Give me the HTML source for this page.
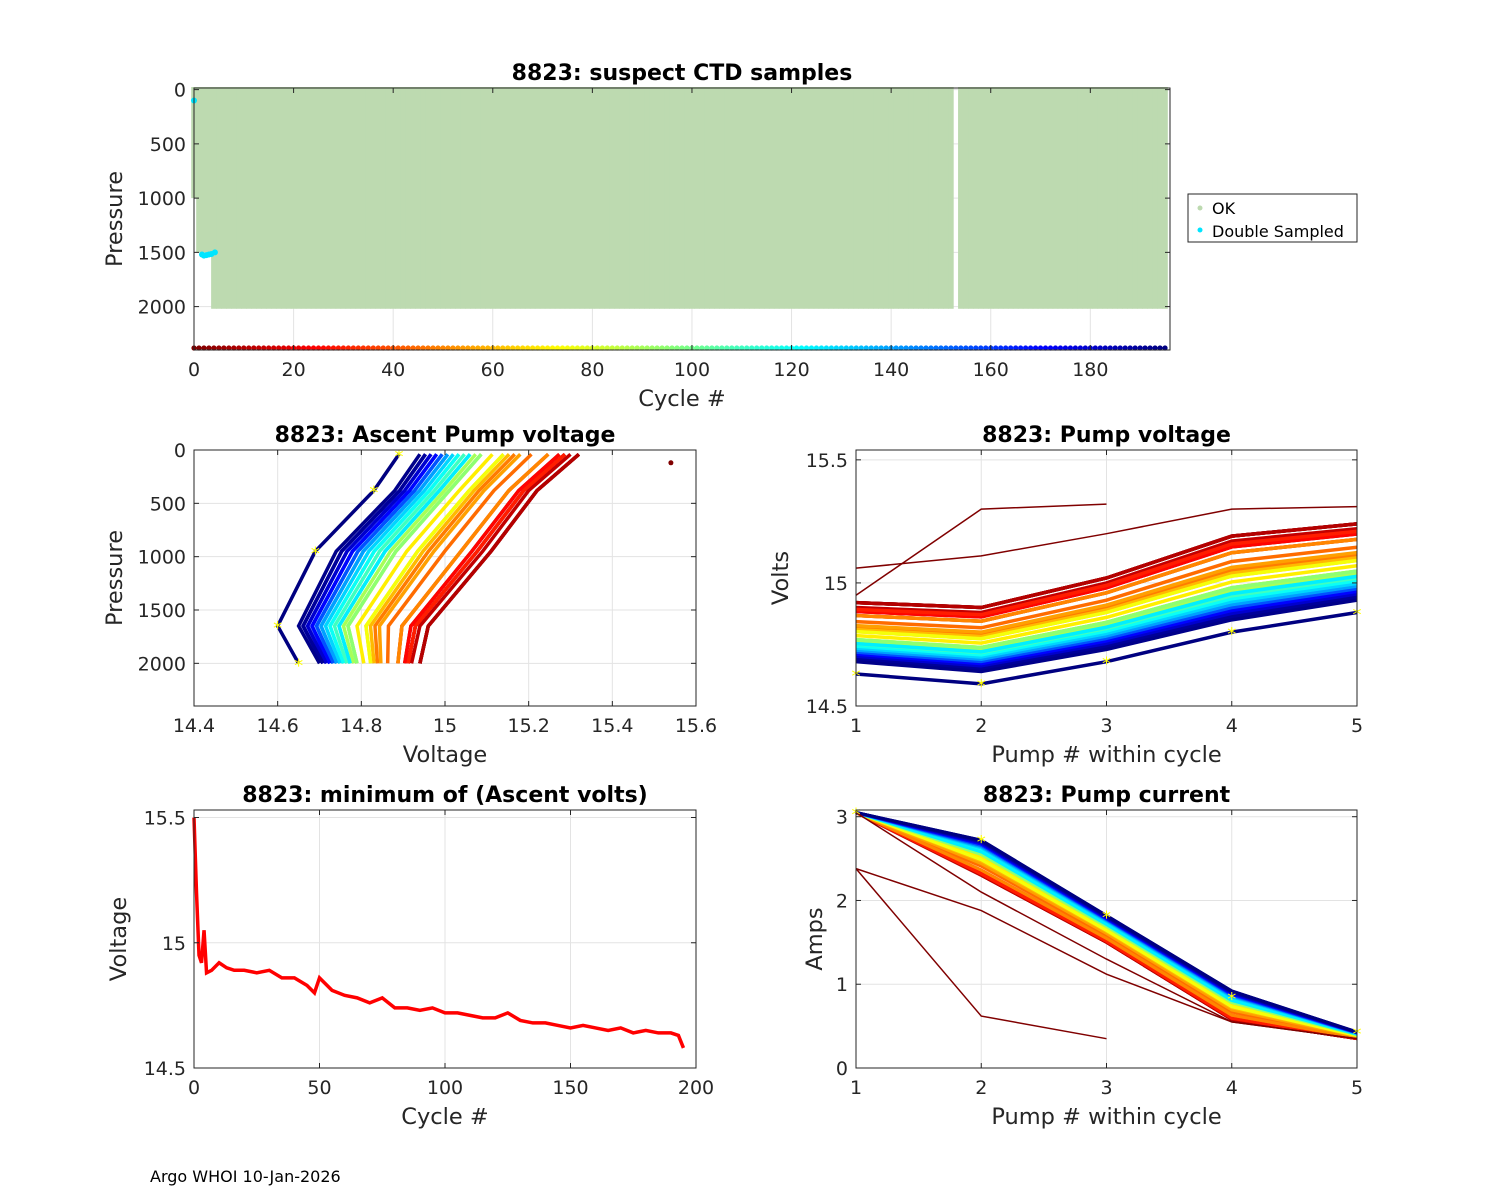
<!DOCTYPE html>
<html><head><meta charset="utf-8"><style>
body{margin:0;background:#fff;}
svg{display:block;font-family:"DejaVu Sans","Liberation Sans",sans-serif;}
</style></head><body>
<svg id="fig" width="1500" height="1200" viewBox="0 0 1500 1200"></svg>
<script>
// ---- data ----
const cycleNums = [0,1,2,3,4,5,7,10,13,16,20,25,30,35,40,45,48,50,55,60,65,70,75,80,85,90,95,100,105,110,115,120,125,130,135,140,145,150,155,160,165,170,175,180,185,190,193,195];
const minVolts  = [15.5,15.2,14.95,14.92,15.05,14.88,14.89,14.92,14.9,14.89,14.89,14.88,14.89,14.86,14.86,14.83,14.8,14.86,14.81,14.79,14.78,14.76,14.78,14.74,14.74,14.73,14.74,14.72,14.72,14.71,14.7,14.7,14.72,14.69,14.68,14.68,14.67,14.66,14.67,14.66,14.65,14.66,14.64,14.65,14.64,14.64,14.63,14.58];
const pumpNums = [1,2,3,4,5];
const pumpVoltEarlyOff = [0.0,-0.02,0.1,0.27,0.32];
const pumpVoltLateOff  = [0.05,0.01,0.1,0.22,0.3];
const ascentPressures = [2000,1650,950,380,40];
const ascentEarlyOff = [0.02,0.04,0.19,0.3,0.4];
const ascentLateOff  = [0.07,0.02,0.11,0.25,0.31];
const ampsEarly = [3.05,2.3,1.5,0.58,0.35];
const ampsLate  = [3.05,2.72,1.82,0.92,0.43];
const okMaxP = [1000,1500,1500,1500,2020];
const missingCycles = [153];
const doubleCycles = [0,1.6,2,2.5,3,3.5,4.2];
const doublePress = [100,1520,1530,1525,1520,1515,1500];
const yTicksP = [0,500,1000,1500,2000];

const NS="http://www.w3.org/2000/svg";
const svg=document.getElementById('fig');
function mk(tag,attrs,parent){const e=document.createElementNS(NS,tag);for(const k in attrs)e.setAttribute(k,attrs[k]);(parent||svg).appendChild(e);return e;}
function jet(t){const c=v=>Math.max(0,Math.min(1,v));const r=c(1.5-Math.abs(4*t-3)),g=c(1.5-Math.abs(4*t-2)),b=c(1.5-Math.abs(4*t-1));return `rgb(${Math.round(r*255)},${Math.round(g*255)},${Math.round(b*255)})`;}
function cyc(c){return jet(1-c/195);}
function axes(o){
  const g=mk('g',{});
  
  
  const sx=v=>o.x0+(v-o.xmin)/(o.xmax-o.xmin)*(o.x1-o.x0);
  const sy=o.rev?(v=>o.y0+(v-o.ymin)/(o.ymax-o.ymin)*(o.y1-o.y0)):(v=>o.y1-(v-o.ymin)/(o.ymax-o.ymin)*(o.y1-o.y0));
  mk('rect',{x:o.x0,y:o.y0,width:o.x1-o.x0,height:o.y1-o.y0,fill:'#fff'},g);
  const grid=mk('g',{stroke:'#e3e3e3','stroke-width':1},g);
  o.xt.forEach(v=>mk('line',{x1:sx(v),x2:sx(v),y1:o.y0,y2:o.y1},grid));
  o.yt.forEach(v=>mk('line',{x1:o.x0,x2:o.x1,y1:sy(v),y2:sy(v)},grid));
  const plot=mk('g',{},g);
  const fr=mk('g',{},g);
  return {g,plot,fr,sx,sy,o};
}
function finish(A,labels){
  const o=A.o,g=A.fr;
  mk('rect',{x:o.x0,y:o.y0,width:o.x1-o.x0,height:o.y1-o.y0,fill:'none',stroke:'#262626','stroke-width':1},g);
  o.xt.forEach(v=>{const x=A.sx(v);mk('line',{x1:x,x2:x,y1:o.y1,y2:o.y1-5,stroke:'#262626'},g);mk('line',{x1:x,x2:x,y1:o.y0,y2:o.y0+5,stroke:'#262626'},g);
    const t=mk('text',{x:x,y:o.y1+26,'text-anchor':'middle','font-size':19,fill:'#262626'},g);t.textContent=(o.xfmt||String)(v);
    
    });
  o.yt.forEach(v=>{const y=A.sy(v);mk('line',{x1:o.x0,x2:o.x0+5,y1:y,y2:y,stroke:'#262626'},g);mk('line',{x1:o.x1,x2:o.x1-5,y1:y,y2:y,stroke:'#262626'},g);
    const t=mk('text',{x:o.x0-8,y:y+7,'text-anchor':'end','font-size':19,fill:'#262626'},g);t.textContent=(o.yfmt||String)(v);
    
    });
  const tt=mk('text',{x:(o.x0+o.x1)/2,y:o.y0-8,'text-anchor':'middle','font-size':22,'font-weight':'bold',fill:'#000'},g);tt.textContent=labels.title;
  
  
  const xl=mk('text',{x:(o.x0+o.x1)/2,y:o.y1+56,'text-anchor':'middle','font-size':22.5,fill:'#262626'},g);xl.textContent=labels.x;
  
  
  const yl=mk('text',{x:0,y:0,'text-anchor':'middle','font-size':22.5,fill:'#262626',transform:`translate(${labels.yx},${(o.y0+o.y1)/2}) rotate(-90)`},g);yl.textContent=labels.y;
  
  
}
const n=cycleNums.length;
const tOf=v=>Math.max(0,Math.min(1,(v-14.63)/0.27));
const lerp=(a,b,t)=>a+(b-a)*t;

// ---- top ----
(function(){
  const A=axes({name:'suspect-ctd-chart',x0:194,x1:1170,y0:88,y1:350,xmin:0,xmax:196,ymin:-15,ymax:2400,rev:true,xt:[0,20,40,60,80,100,120,140,160,180],yt:yTicksP});
  for(let c=0;c<196;c++){
    if(missingCycles.includes(c))continue;
    const mp=c<okMaxP.length?okMaxP[c]:2020;
    const r=mk('rect',{x:A.sx(c)-2.8,y:A.sy(-15)-1,width:5.6,height:A.sy(mp)-A.sy(-15)+1,fill:'#bddab0'},A.plot);
    
    
  }
  doubleCycles.forEach((c,i)=>{const d=mk('circle',{cx:A.sx(c),cy:A.sy(doublePress[i]),r:3,fill:'#00e5ff'},A.plot);
    
    });
  for(let c=0;c<196;c++){const d=mk('circle',{cx:A.sx(c),cy:A.sy(2400)-2,r:2.6,fill:cyc(c)},A.plot);
    
    }
  finish(A,{title:'8823: suspect CTD samples',x:'Cycle #',y:'Pressure',yx:122});
  const lg=mk('g',{});
  
  
  mk('rect',{x:1188,y:194,width:169,height:48,fill:'#fff',stroke:'#262626'},lg);
  mk('circle',{cx:1200,cy:208,r:2.5,fill:'#bddab0'},lg);
  mk('circle',{cx:1200,cy:230,r:2.5,fill:'#00e5ff'},lg);
  const t1=mk('text',{x:1212,y:214,'font-size':16,fill:'#000'},lg);t1.textContent='OK';
  
  
  const t2=mk('text',{x:1212,y:237,'font-size':16,fill:'#000'},lg);t2.textContent='Double Sampled';
  
  
})();

// ---- middle-left ----
(function(){
  const A=axes({name:'ascent-pump-voltage-chart',x0:194,x1:696,y0:450,y1:706,xmin:14.4,xmax:15.6,ymin:0,ymax:2400,rev:true,xt:[14.4,14.6,14.8,15,15.2,15.4,15.6],yt:yTicksP,xfmt:v=>String(+v.toFixed(1))});
  for(let i=2;i<n;i++){
    const v=Math.min(minVolts[i],14.92), t=tOf(v);
    const pts=ascentPressures.map((p,k)=>[A.sx(v+lerp(ascentLateOff[k],ascentEarlyOff[k],t)),A.sy(p)]);
    const l=mk('polyline',{points:pts.map(p=>p.join(',')).join(' '),fill:'none',stroke:cyc(cycleNums[i]),'stroke-width':3.5},A.plot);
    
    
  }
  const last=n-1;
  ascentPressures.forEach((p,k)=>{const s=mk('text',{x:A.sx(minVolts[last]+ascentLateOff[k]),y:A.sy(p)+8,'text-anchor':'middle','font-size':18,fill:'#ffff00'},A.plot);s.textContent='*';
    
    });
  const o=mk('circle',{cx:A.sx(15.54),cy:A.sy(120),r:2.5,fill:'#800000'},A.plot);
  
  
  finish(A,{title:'8823: Ascent Pump voltage',x:'Voltage',y:'Pressure',yx:122});
})();

// ---- middle-right ----
(function(){
  const A=axes({name:'pump-voltage-chart',x0:856,x1:1357,y0:450,y1:706,xmin:1,xmax:5,ymin:14.5,ymax:15.54,xt:[1,2,3,4,5],yt:[14.5,15,15.5]});
  for(let i=2;i<n;i++){
    const v=Math.min(minVolts[i],14.92), t=tOf(v);
    const pts=pumpNums.map((p,k)=>[A.sx(p),A.sy(v+lerp(pumpVoltLateOff[k],pumpVoltEarlyOff[k],t))]);
    const l=mk('polyline',{points:pts.map(p=>p.join(',')).join(' '),fill:'none',stroke:cyc(cycleNums[i]),'stroke-width':3.5},A.plot);
    
    
  }
  const l0=mk('polyline',{points:[[A.sx(1),A.sy(14.95)],[A.sx(2),A.sy(15.3)],[A.sx(3),A.sy(15.32)]].map(p=>p.join(',')).join(' '),fill:'none',stroke:'#800000','stroke-width':1.5},A.plot);
  
  
  const l1=mk('polyline',{points:[[A.sx(1),A.sy(15.06)],[A.sx(2),A.sy(15.11)],[A.sx(3),A.sy(15.2)],[A.sx(4),A.sy(15.3)],[A.sx(5),A.sy(15.31)]].map(p=>p.join(',')).join(' '),fill:'none',stroke:'#800000','stroke-width':1.5},A.plot);
  
  
  const last=n-1;
  pumpNums.forEach((p,k)=>{const s=mk('text',{x:A.sx(p),y:A.sy(minVolts[last]+pumpVoltLateOff[k])+8,'text-anchor':'middle','font-size':18,fill:'#ffff00'},A.plot);s.textContent='*';
    
    });
  finish(A,{title:'8823: Pump voltage',x:'Pump # within cycle',y:'Volts',yx:788});
})();

// ---- bottom-left ----
(function(){
  const A=axes({name:'minimum-ascent-volts-chart',x0:194,x1:696,y0:810,y1:1068,xmin:0,xmax:200,ymin:14.5,ymax:15.53,xt:[0,50,100,150,200],yt:[14.5,15,15.5]});
  const pts=cycleNums.map((c,i)=>[A.sx(c),A.sy(minVolts[i])]);
  const l=mk('polyline',{points:pts.map(p=>p.join(',')).join(' '),fill:'none',stroke:'#ff0000','stroke-width':3.5},A.plot);
  
  
  finish(A,{title:'8823: minimum of (Ascent volts)',x:'Cycle #',y:'Voltage',yx:126});
})();

// ---- bottom-right ----
(function(){
  const A=axes({name:'pump-current-chart',x0:856,x1:1357,y0:810,y1:1068,xmin:1,xmax:5,ymin:0,ymax:3.08,xt:[1,2,3,4,5],yt:[0,1,2,3]});
  for(let i=2;i<n;i++){
    const t=tOf(Math.min(minVolts[i],14.92));
    const pts=pumpNums.map((p,k)=>[A.sx(p),A.sy(lerp(ampsLate[k],ampsEarly[k],t))]);
    const l=mk('polyline',{points:pts.map(p=>p.join(',')).join(' '),fill:'none',stroke:cyc(cycleNums[i]),'stroke-width':3},A.plot);
    
    
  }
  [[[1,2.38],[2,0.62],[3,0.35]],[[1,2.38],[2,1.88],[3,1.12],[4,0.55],[5,0.35]],[[1,3.05],[2,2.1],[3,1.3],[4,0.55],[5,0.35]]].forEach(s=>{
    const l=mk('polyline',{points:s.map(p=>A.sx(p[0])+','+A.sy(p[1])).join(' '),fill:'none',stroke:'#800000','stroke-width':1.5},A.plot);
    
    
  });
  pumpNums.forEach((p,k)=>{const s=mk('text',{x:A.sx(p),y:A.sy(ampsLate[k]-(k==3?0.07:0))+8,'text-anchor':'middle','font-size':18,fill:'#ffff00'},A.plot);s.textContent='*';
    
    });
  finish(A,{title:'8823: Pump current',x:'Pump # within cycle',y:'Amps',yx:822});
})();

const foot=mk('text',{x:150,y:1182,'font-size':16,fill:'#000'});
foot.textContent='Argo WHOI 10-Jan-2026';


</script>
</body></html>
